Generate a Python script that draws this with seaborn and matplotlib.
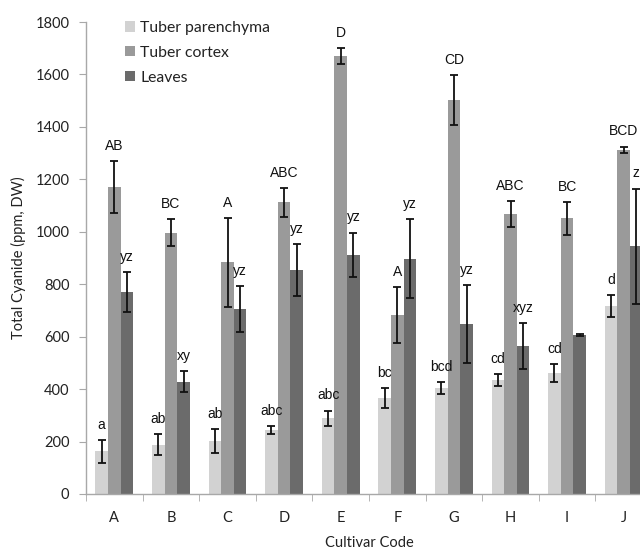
import matplotlib.pyplot as plt
import numpy as np
import pandas as pd
import seaborn as sns

cultivars = ["A", "B", "C", "D", "E", "F", "G", "H", "I", "J"]
tissues = ["Tuber parenchyma", "Tuber cortex", "Leaves"]

parenchyma = [163, 188, 202, 244, 288, 366, 404, 435, 462, 718]
parenchyma_err = [43, 40, 46, 15, 30, 38, 23, 23, 33, 42]
cortex = [1170, 997, 883, 1112, 1670, 683, 1503, 1068, 1051, 1313]
cortex_err = [100, 50, 170, 55, 30, 107, 95, 50, 63, 12]
leaves = [770, 428, 706, 854, 912, 898, 648, 564, 606, 945]
leaves_err = [77, 40, 88, 100, 85, 150, 150, 88, 3, 220]

parenchyma_letters = ["a", "ab", "ab", "abc", "abc", "bc", "bcd", "cd", "cd", "d"]
cortex_letters = ["AB", "BC", "A", "ABC", "D", "A", "CD", "ABC", "BC", "BCD"]
leaves_letters = ["yz", "xy", "yz", "yz", "yz", "yz", "yz", "xyz", "", "z"]

colors = ["#d2d2d2", "#9a9a9a", "#6b6b6b"]

df = pd.DataFrame({
    "cultivar": cultivars * 3,
    "tissue": np.repeat(tissues, len(cultivars)),
    "value": parenchyma + cortex + leaves,
})

sns.set_style("white")
plt.rcParams["font.family"] = ["Lato", "DejaVu Sans"]

fig = plt.figure(figsize=(6.4, 5.53), dpi=100)
ax = fig.add_axes([0.1344, 0.1067, 0.8844, 0.8535])

sns.barplot(
    data=df, x="cultivar", y="value", hue="tissue",
    order=cultivars, hue_order=tissues, palette=colors,
    width=0.67, saturation=1, errorbar=None, linewidth=0, ax=ax,
)

errors = [parenchyma_err, cortex_err, leaves_err]
letters = [parenchyma_letters, cortex_letters, leaves_letters]
for container, vals, errs, labs in zip(ax.containers, [parenchyma, cortex, leaves], errors, letters):
    xs = [bar.get_x() + bar.get_width() / 2 for bar in container]
    ax.errorbar(xs, vals, yerr=errs, fmt="none", ecolor="#111111",
                elinewidth=1.3, capsize=3, capthick=1.3)
    for x, v, e, lab in zip(xs, vals, errs, labs):
        ax.annotate(lab, (x, v + e), xytext=(0, 8), textcoords="offset points",
                    ha="center", va="baseline", fontsize=10,
                    family=["Liberation Sans", "DejaVu Sans"], color="#111111")

ax.set_ylim(0, 1800)
ax.set_xlim(-0.5, 9.5)
ax.set_yticks(np.arange(0, 1801, 200))
ax.set_xticks(np.arange(-0.5, 10, 1), minor=True)

for side in ["top", "right"]:
    ax.spines[side].set_visible(False)
for side in ["left", "bottom"]:
    ax.spines[side].set_color("#a8a8a8")
    ax.spines[side].set_linewidth(1.0)

ax.tick_params(axis="y", which="major", direction="out", length=5, color="#a8a8a8",
               labelsize=10.5, labelcolor="#222222", pad=7, left=True)
ax.tick_params(axis="x", which="major", length=0, labelsize=10.5,
               labelcolor="#222222", pad=12)
ax.tick_params(axis="x", which="minor", direction="out", length=5,
               color="#a8a8a8", bottom=True)

ax.set_xlabel("Cultivar Code", fontsize=10.5, color="#222222", labelpad=8)
ax.set_ylabel("Total Cyanide (ppm, DW)", fontsize=10.5, color="#222222", labelpad=7)

ax.legend(
    loc="upper left", bbox_to_anchor=(125 / 640, 1 - 21 / 553),
    bbox_transform=fig.transFigure, frameon=False, fontsize=11.3,
    handlelength=0.64, handleheight=0.64, handletextpad=0.32,
    labelspacing=0.69, borderpad=0, borderaxespad=0,
    labelcolor="#222222",
)

plt.savefig("out.png", dpi=100)
plt.close()
